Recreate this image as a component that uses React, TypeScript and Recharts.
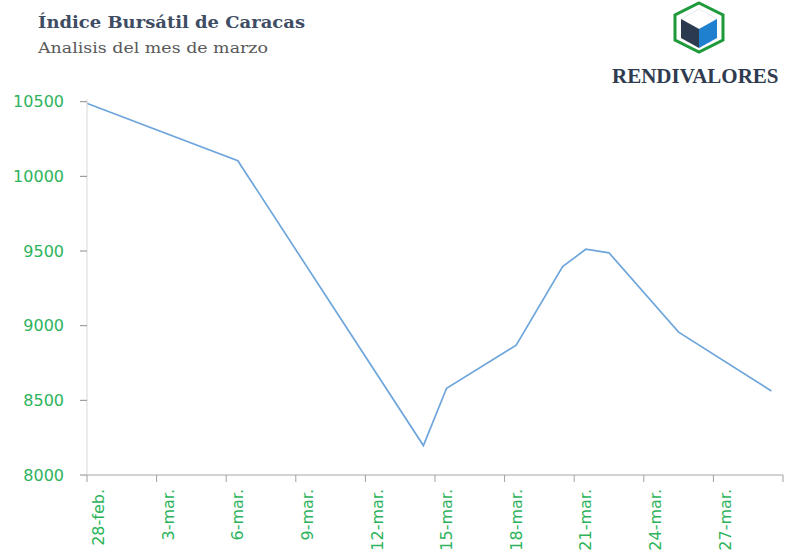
import React from 'react';
import { LineChart, Line, XAxis, YAxis } from 'recharts';

// trading days, counted from 28-feb. (day 0)
const days = [-1, 6, 14, 15, 18, 20, 21, 22, 25, 29];
const values = [10518, 10105, 8197, 8581, 8869, 9395, 9512, 9488, 8957, 8563];

// date axis: marks every 3 days, labels in the middle of the day slot
const tickDays = [0, 3, 6, 9, 12, 15, 18, 21, 24, 27, 30];
const tickLabels = ['28-feb.', '3-mar.', '6-mar.', '9-mar.', '12-mar.', '15-mar.', '18-mar.', '21-mar.', '24-mar.', '27-mar.'];
const yTicks = [8000, 8500, 9000, 9500, 10000, 10500];

const GREEN = '#2db35c';
const LINE = '#6ea6dc';

const data = days.map((d, i) => ({ x: d + 0.5, value: values[i] }));
const labelTicks = tickLabels.map((_, i) => tickDays[i] + 0.5);

const DateTick = ({ x, y, payload }: any) => {
	const i = labelTicks.indexOf(payload.value);
	return (
		<text
			transform={`translate(${x},${y + 13}) rotate(-90)`}
			textAnchor='end'
			dominantBaseline='central'
			fill={GREEN}
			fontSize={16}
			fontFamily='DejaVu Sans'
		>
			{tickLabels[i]}
		</text>
	);
};

// marks axis draws only the tick lines
const NoLabel = () => <g />;

// header: title, subtitle and the company logo
const Header = () => (
	<svg
		width={785}
		height={100}
		style={{ position: 'absolute', left: 0, top: 0, pointerEvents: 'none' }}
	>
		<text x={38} y={28} fontFamily='DejaVu Serif' fontWeight='bold' fontSize={17} fill='#3e4d63' textLength={267} lengthAdjust='spacingAndGlyphs'>
			Índice Bursátil de Caracas
		</text>
		<text x={38} y={53} fontFamily='DejaVu Serif' fontSize={15} fill='#595959' textLength={230} lengthAdjust='spacingAndGlyphs'>
			Analisis del mes de marzo
		</text>
		<polygon points='699,3 723,15 723,40 699,52 675,40 675,15' fill='#ffffff' stroke='#1f9a3b' strokeWidth={3} />
		<polygon points='699,9 717,19 699,29 681,19' fill='#ffffff' stroke='#dfe6ee' strokeWidth={0.8} />
		<polygon points='681,19 699,29 699,48 681,38' fill='#2c3a4f' />
		<polygon points='699,29 717,19 717,38 699,48' fill='#1f80d0' />
		<text x={612} y={83} fontFamily='Liberation Serif' fontWeight='bold' fontSize={21} fill='#2f3b4f'>
			RENDIVALORES
		</text>
	</svg>
);

export default function App() {
	return (
		<div style={{ position: 'absolute', left: 0, top: 0, width: 785, height: 558, background: '#ffffff' }}>
			<LineChart width={785} height={558} data={data} margin={{ top: 99, right: 2, bottom: 0, left: 0 }}>
				{/* tick marks only */}
				<XAxis
					xAxisId='a'
					dataKey='x'
					type='number'
					domain={[0, 30]}
					ticks={tickDays}
					interval={0}
					allowDataOverflow
					tick={<NoLabel />}
					tickSize={7}
					height={1}
					tickLine={{ stroke: '#a0a0a0' }}
					axisLine={{ stroke: '#a6a6a6' }}
				/>
				{/* date labels */}
				<XAxis
					xAxisId='b'
					dataKey='x'
					type='number'
					domain={[0, 30]}
					ticks={labelTicks}
					interval={0}
					allowDataOverflow
					axisLine={false}
					tickLine={false}
					tickSize={0}
					tickMargin={0}
					height={82}
					tick={<DateTick />}
				/>
				<YAxis
					type='number'
					domain={[8000, 10500]}
					ticks={yTicks}
					interval={0}
					width={87}
					tickSize={7}
					tickMargin={16}
					tick={{ fill: GREEN, fontSize: 16, fontFamily: 'DejaVu Sans' }}
					tickLine={{ stroke: '#8c8c8c' }}
					axisLine={{ stroke: '#d9d9d9' }}
				/>
				<Line
					xAxisId='a'
					type='linear'
					dataKey='value'
					stroke={LINE}
					strokeWidth={1.7}
					dot={false}
					isAnimationActive={false}
				/>
			</LineChart>
			<Header />
		</div>
	);
}
